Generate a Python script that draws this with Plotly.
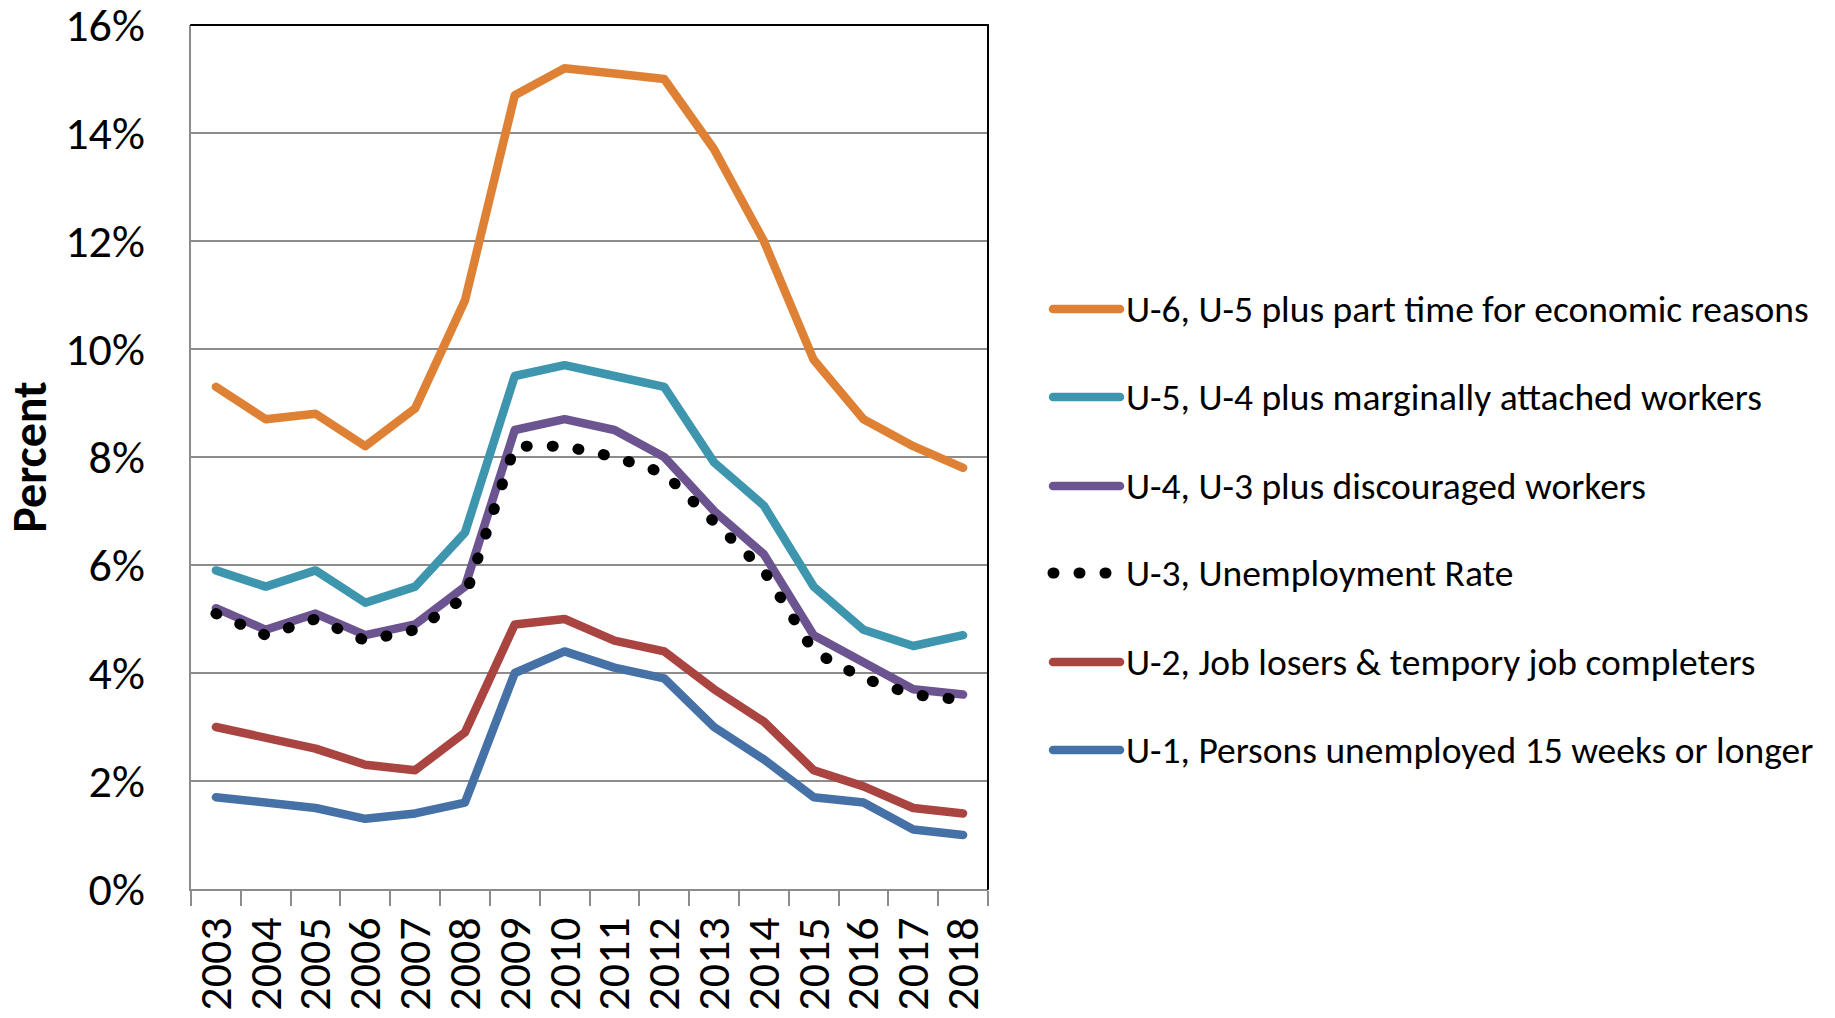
import plotly.graph_objects as go

years = [str(y) for y in range(2003, 2019)]

u6 = [9.3, 8.7, 8.8, 8.2, 8.9, 10.9, 14.7, 15.2, 15.1, 15.0, 13.7, 12.0, 9.8, 8.7, 8.2, 7.8]
u5 = [5.9, 5.6, 5.9, 5.3, 5.6, 6.6, 9.5, 9.7, 9.5, 9.3, 7.9, 7.1, 5.6, 4.8, 4.5, 4.7]
u4 = [5.2, 4.8, 5.1, 4.7, 4.9, 5.6, 8.5, 8.7, 8.5, 8.0, 7.0, 6.2, 4.7, 4.2, 3.7, 3.6]
u3 = [5.1, 4.7, 5.0, 4.6, 4.8, 5.4, 8.2, 8.2, 8.0, 7.7, 6.8, 5.9, 4.4, 3.9, 3.6, 3.5]
u2 = [3.0, 2.8, 2.6, 2.3, 2.2, 2.9, 4.9, 5.0, 4.6, 4.4, 3.7, 3.1, 2.2, 1.9, 1.5, 1.4]
u1 = [1.7, 1.6, 1.5, 1.3, 1.4, 1.6, 4.0, 4.4, 4.1, 3.9, 3.0, 2.4, 1.7, 1.6, 1.1, 1.0]

names = [
    "U-6, U-5 plus part time for economic reasons",
    "U-5, U-4 plus marginally attached workers",
    "U-4, U-3 plus discouraged workers",
    "U-3, Unemployment Rate",
    "U-2, Job losers & tempory job completers",
    "U-1, Persons unemployed 15 weeks or longer",
]
series = [u6, u5, u4, u3, u2, u1]
colors = ["#DF8135", "#3D96AE", "#6B548F", "#000000", "#A94441", "#4571A7"]
y_ticks = list(range(0, 17, 2))
y_labels = [f"{v}%" for v in y_ticks]

FONT = "Carlito, Calibri, Lato, sans-serif"
W, H = 1835, 1018
PL, PR, PT, PB = 191, 988, 25, 889  # plot area pixels

fig = go.Figure()
for name, vals, col in zip(names, series, colors):
    dotted = name.startswith("U-3")
    fig.add_trace(go.Scatter(
        x=years, y=vals, name=name, mode="lines",
        line=dict(color=col, width=11 if dotted else 8.5,
                  dash="1px,25px" if dotted else "solid"),
        showlegend=False,
    ))

def px_x(p):
    return (p - PL) / (PR - PL)

def px_y(p):
    return (PB - p) / (PB - PT)

shapes = [
    dict(type="line", xref="paper", yref="paper", x0=0, x1=1, y0=1, y1=1,
         line=dict(color="#000000", width=2)),
    dict(type="line", xref="paper", yref="paper", x0=1, x1=1, y0=0, y1=1,
         line=dict(color="#000000", width=2)),
]
annotations = []
leg_y = [309, 397, 486, 573, 662, 750]
for name, col, yy in zip(names, colors, leg_y):
    dotted = name.startswith("U-3")
    shapes.append(dict(
        type="line", xref="paper", yref="paper",
        x0=px_x(1053), x1=px_x(1120), y0=px_y(yy), y1=px_y(yy),
        line=dict(color=col, width=11 if dotted else 8.5,
                  dash="1px,25px" if dotted else "solid"),
    ))
    annotations.append(dict(
        xref="paper", yref="paper", x=px_x(1124), y=px_y(yy),
        xanchor="left", yanchor="middle", showarrow=False,
        text=name, font=dict(family=FONT, size=37.5, color="#000000"),
    ))

fig.update_layout(
    width=W, height=H,
    margin=dict(l=PL, r=W - PR, t=PT, b=H - PB, autoexpand=False),
    plot_bgcolor="white", paper_bgcolor="white",
    shapes=shapes, annotations=annotations,
    showlegend=False,
)
fig.update_xaxes(
    type="category", tickmode="array", tickvals=years, ticktext=years,
    range=[-0.5, len(years) - 0.5],
    showline=True, linecolor="#8C8C8C", linewidth=2,
    ticks="outside", tickson="boundaries", ticklen=15, tickcolor="#8C8C8C",
    tickwidth=2, tickangle=-90, showgrid=False, zeroline=False,
    tickfont=dict(family=FONT, size=46, color="#000000"),
    ticklabelstandoff=8, ticklabeloverflow="allow",
)
fig.update_yaxes(
    range=[0, 16], tickvals=y_ticks, ticktext=y_labels, showgrid=True,
    gridcolor="#8C8C8C", gridwidth=2, showline=True, linecolor="#8C8C8C",
    linewidth=2, ticks="", zeroline=False,
    tickfont=dict(family=FONT, size=46, color="#000000"),
    ticklabelstandoff=35, ticklabeloverflow="allow",
    title=dict(text="<b>Percent</b>", standoff=16,
               font=dict(family=FONT, size=48, color="#000000")),
)

post = """
document.body.style.margin = '0';
document.body.style.padding = '0';
var gd = document.getElementById('{plot_id}');
function fixCaps(){
  gd.querySelectorAll('path.js-line, .shapelayer path').forEach(function(p){
    p.style.strokeLinecap = 'round';
    p.style.strokeLinejoin = 'round';
  });
}
fixCaps();
if (gd.on) { gd.on('plotly_afterplot', fixCaps); }
"""
fig.write_html("out.html", post_script=post, config={"displayModeBar": False})
